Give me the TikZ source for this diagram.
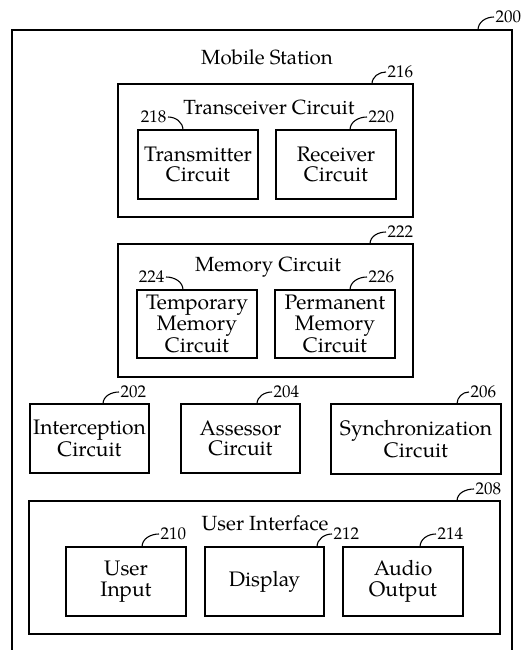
\documentclass[tikz,border=0pt]{standalone}
\usepackage{fontspec}
\setmainfont{TeX Gyre Pagella}
\begin{document}
\begin{tikzpicture}[x=1pt,y=-1pt,
  box/.style={draw,line width=1.6pt,align=center,inner sep=0pt,
    font=\fontsize{21}{20.5}\selectfont},
  ttl/.style={font=\fontsize{20.5}{20.5}\selectfont,inner sep=0pt},
  num/.style={font=\fontsize{17}{17}\selectfont,inner sep=1.5pt},
  hook/.style={line width=1.1pt}]
\useasboundingbox (0,0) rectangle (525,650);
% outer
\draw[line width=1.6pt] (12,700) -- (12,30) -- (512,30) -- (512,700);
\node[ttl] (tms) at (267,57) {Mobile Station};
% transceiver
\node[box,minimum width=295pt,minimum height=133pt] (b216) at (265.5,150.5) {};
\node[ttl] (ttr) at (269,107) {Transceiver Circuit};
\node[box,minimum width=120pt,minimum height=69pt] (b218) at (198,164.5) {Transmitter\\Circuit};
\node[box,minimum width=120pt,minimum height=69pt] (b220) at (336,164.5) {Receiver\\Circuit};
% memory
\node[box,minimum width=295pt,minimum height=133pt] (b222) at (265.5,310.5) {};
\node[ttl] (tmc) at (268,267) {Memory Circuit};
\node[box,minimum width=120pt,minimum height=68pt] (b224) at (197,324) {Temporary\\Memory\\Circuit};
\node[box,minimum width=120pt,minimum height=68pt] (b226) at (335,324) {Permanent\\Memory\\Circuit};
% row
\node[box,minimum width=119pt,minimum height=69pt] (b202) at (89.5,438.5) {Interception\\Circuit};
\node[box,minimum width=119pt,minimum height=69pt] (b204) at (240.5,438.5) {Assessor\\Circuit};
\node[box,minimum width=170pt,minimum height=70pt] (b206) at (416,439) {Synchronization\\Circuit};
% user interface
\node[box,minimum width=471pt,minimum height=133pt] (b208) at (264.5,567.5) {};
\node[ttl] (tui) at (265,523) {User Interface};
\node[box,minimum width=120pt,minimum height=69pt] (b210) at (126,581.5) {User\\Input};
\node[box,minimum width=119pt,minimum height=69pt] (b212) at (264.5,581.5) {Display};
\node[box,minimum width=120pt,minimum height=69pt] (b214) at (403,581.5) {Audio\\Output};
% labels (right-hooked)
\foreach \n/\lx/\ly/\kx/\ky in {200/494/17/478/30, 216/386/72/372/84, 220/367/117/350/130,
  222/386/232/370/244, 226/367/277/350/290, 202/119/392/103/404, 204/272/392/257/404,
  206/469/392/457/404, 208/474/489/457/501, 210/159/534/142/547, 212/332/534/317/547,
  214/436/534/420/547}{
  \node[num,anchor=west] (l\n) at (\lx,\ly) {\n};
  \coordinate (k\n) at (\kx,\ky);
  \draw[hook] (l\n.west) to[out=180,in=90] (k\n);
}
% labels (left-hooked)
\foreach \n/\lx/\ly/\kx/\ky in {218/168/117/183/130, 224/166/277/183/290}{
  \node[num,anchor=east] (l\n) at (\lx,\ly) {\n};
  \coordinate (k\n) at (\kx,\ky);
  \draw[hook] (l\n.east) to[out=0,in=90] (k\n);
}
\end{tikzpicture}
\end{document}
